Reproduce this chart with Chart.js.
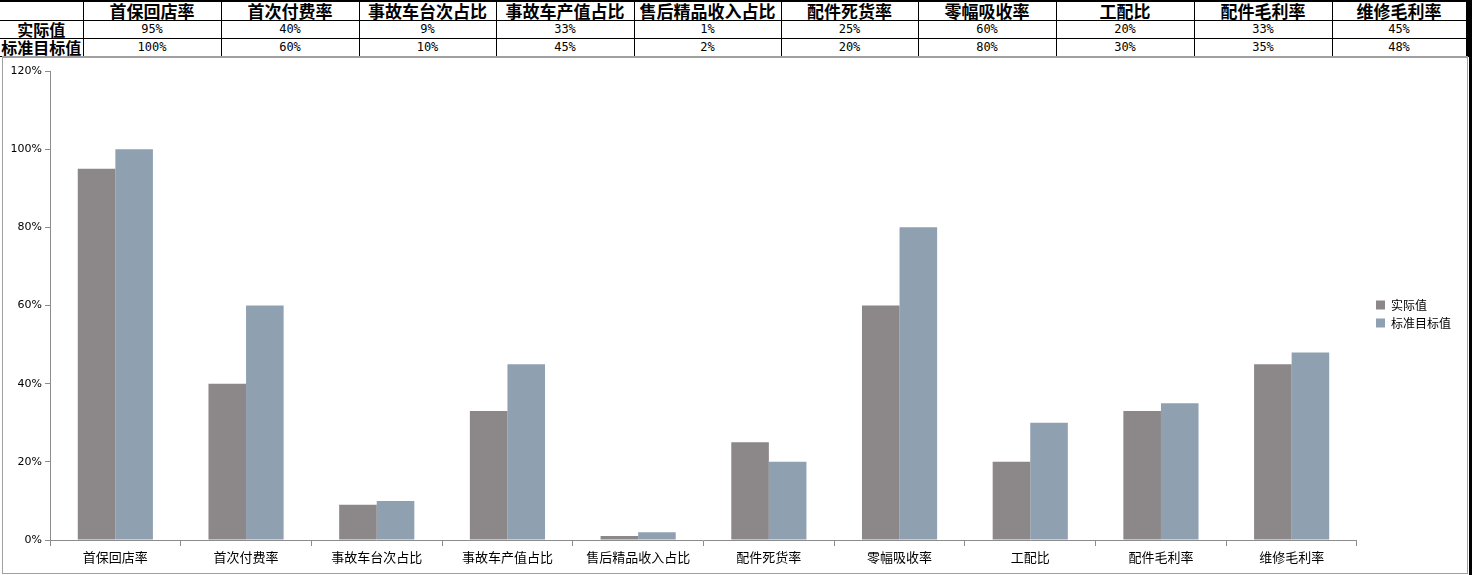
<!DOCTYPE html>
<html>
<head>
<meta charset="utf-8">
<script src="https://cdn.jsdelivr.net/npm/chart.js@4.4.0/dist/chart.umd.min.js"></script>
<style>
    body { margin: 0; background: #fff; width: 1473px; height: 575px; overflow: hidden; }
    #kpiTable {
        position: absolute; left: 0; top: 0;
        border-collapse: collapse; table-layout: fixed;
        font-family: "Noto Sans CJK SC", sans-serif;
        border-top: 2px solid #000; border-right: 3px solid #000;
    }
    #kpiTable td { border: 1px solid #000; padding: 0; text-align: center; overflow: hidden; white-space: nowrap; }
    #kpiTable tr.head td { height: 18px; font-size: 17px; font-weight: bold; line-height: 18px; }
    #kpiTable tr.val td { height: 17px; font-size: 12px; line-height: 17px; font-family: "DejaVu Sans Mono", monospace; }
    #kpiTable tr td.rowName { font-size: 16px; font-weight: bold; font-family: "Noto Sans CJK SC", sans-serif; border-left: none; }
    #kpiTable tr.head td.rowName { border-top: none; }
    .chartBox {
        position: absolute; left: 2px; top: 56px; width: 1464px; height: 515px;
        border: 1px solid #a0a0a0; border-top: 2px solid #a0a0a0;
    }
    .rightBar { position: absolute; left: 1469px; top: 0; width: 3px; height: 575px; background: #000; }
</style>
</head>
<body>
<table id="kpiTable"></table>
<div class="rightBar"></div>
<div class="chartBox"><canvas id="kpiChart" width="1464" height="515"></canvas></div>
<script>
// Chart data
const categories = ['首保回店率', '首次付费率', '事故车台次占比', '事故车产值占比', '售后精品收入占比',
    '配件死货率', '零幅吸收率', '工配比', '配件毛利率', '维修毛利率'];
const actualValues = [95, 40, 9, 33, 1, 25, 60, 20, 33, 45];
const targetValues = [100, 60, 10, 45, 2, 20, 80, 30, 35, 48];
const seriesNames = ['实际值', '标准目标值'];
const yTicks = [0, 20, 40, 60, 80, 100, 120];

// Column widths of the table on top (first column is the row name)
const colWidths = [83, 138, 138, 137, 138, 147, 137, 138, 138, 138, 135];

// Build table above the chart
function buildTable() {
    const table = document.getElementById('kpiTable');
    const colgroup = document.createElement('colgroup');
    colWidths.forEach(w => {
        const col = document.createElement('col');
        col.style.width = w + 'px';
        colgroup.appendChild(col);
    });
    table.appendChild(colgroup);

    const head = table.insertRow();
    head.className = 'head';
    head.insertCell().className = 'rowName';
    categories.forEach(c => { head.insertCell().textContent = c; });

    [actualValues, targetValues].forEach((values, i) => {
        const row = table.insertRow();
        row.className = 'val';
        const name = row.insertCell();
        name.className = 'rowName';
        name.textContent = seriesNames[i];
        values.forEach(v => { row.insertCell().textContent = v + '%'; });
    });
}

// Nudge the legend to where it sits in the original sheet
const legendShift = {
    id: 'legendShift',
    afterUpdate(chart) {
        const lg = chart.legend;
        if (!lg) return;
        lg.left += 13; lg.right += 13;
        lg.top -= 8; lg.bottom -= 8;
    }
};

// Initialize bar chart
function initializeKpiChart() {
    const ctx = document.getElementById('kpiChart').getContext('2d');
    const axisColor = '#8c8c8c';
    new Chart(ctx, {
        type: 'bar',
        data: {
            labels: categories,
            datasets: [{
                label: seriesNames[0],
                data: actualValues,
                backgroundColor: '#8c8789',
                borderWidth: 0
            }, {
                label: seriesNames[1],
                data: targetValues,
                backgroundColor: '#8fa0b0',
                borderWidth: 0
            }]
        },
        plugins: [legendShift],
        options: {
            responsive: false,
            animation: false,
            layout: { padding: { top: 13, right: 19, left: 0, bottom: 0 } },
            categoryPercentage: 0.575,
            barPercentage: 1.0,
            plugins: {
                legend: {
                    position: 'right',
                    labels: {
                        boxWidth: 9,
                        boxHeight: 9,
                        padding: 6,
                        color: '#000',
                        font: { family: '"Noto Sans CJK SC", sans-serif', size: 12 }
                    }
                },
                title: { display: false },
                tooltip: { enabled: false }
            },
            scales: {
                y: {
                    min: 0,
                    max: 120,
                    afterBuildTicks: scale => { scale.ticks = yTicks.map(v => ({ value: v })); },
                    afterFit: scale => { scale.width = 47; },
                    border: { color: axisColor, width: 1 },
                    grid: { display: true, drawOnChartArea: false, drawTicks: true, tickLength: 5, color: axisColor },
                    ticks: {
                        padding: 3,
                        color: '#000',
                        font: { family: '"DejaVu Sans", sans-serif', size: 11 },
                        callback: v => v + '%'
                    }
                },
                x: {
                    afterFit: scale => { scale.height = 33; },
                    border: { color: axisColor, width: 1 },
                    grid: { display: true, offset: true, drawOnChartArea: false, drawTicks: true, tickLength: 6, color: axisColor },
                    ticks: {
                        padding: 3,
                        color: '#000',
                        maxRotation: 0,
                        autoSkip: false,
                        font: { family: '"Noto Sans CJK SC", sans-serif', size: 13 }
                    }
                }
            }
        }
    });
}

buildTable();
initializeKpiChart();
</script>
</body>
</html>
